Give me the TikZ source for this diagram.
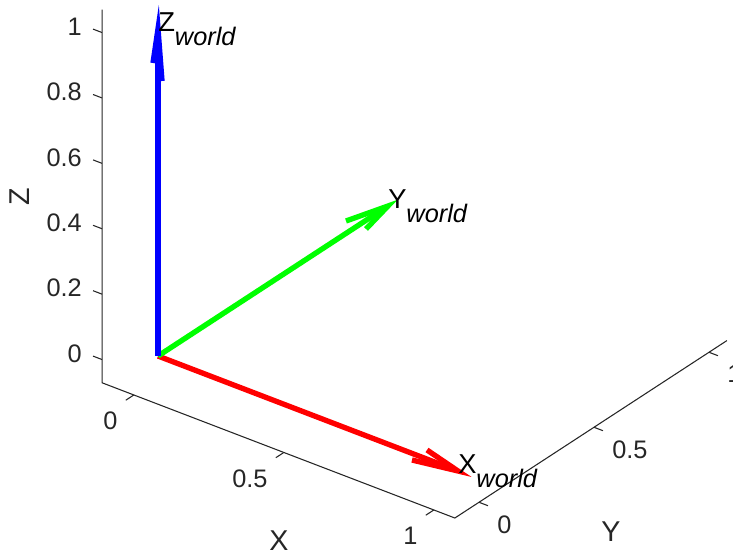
\documentclass[tikz,border=0pt]{standalone}
\usepackage{fontspec}
\setmainfont{Liberation Sans}
\usepackage{xcolor}
\definecolor{axisgray}{rgb}{0.15,0.15,0.15}
\usepackage{tikz}
\usetikzlibrary{positioning, calc}

\begin{document}
\begin{tikzpicture}[
  x={(225pt,-86.25pt)}, y={(172.5pt,112.5pt)}, z={(0pt,245.25pt)},
  axisline/.style={draw=axisgray, line width=0.8pt},
  ticklab/.style={text=axisgray, inner sep=0pt, font=\fontsize{19}{22}\selectfont},
  axtitle/.style={text=axisgray, inner sep=0pt, font=\fontsize{21.5}{24}\selectfont},
  vecline/.style={line width=4pt},
  vechead/.style={line width=4pt, line join=miter},
  veclab/.style={anchor=west, inner sep=0pt, font=\fontsize{20.5}{24}\selectfont},
]
\useasboundingbox (-118.5pt,-148.5pt) rectangle (431.25pt,267pt);

% --- Axes box ---
\coordinate (A) at (-0.106,-0.105,-0.071);
\coordinate (B) at (1.07,-0.105,-0.071);
\coordinate (C) at (1.07,1.078,-0.071);
\coordinate (D) at (-0.106,-0.105,1.07);
\draw[axisline] (D) -- (A) -- (B) -- (C);

% Z ticks
\foreach \t/\lab [count=\i] in {0/0,0.2/0.2,0.4/0.4,0.6/0.6,0.8/0.8,1/1} {
  \draw[axisline] (-0.106,-0.105,\t) -- ++(-0.03,0,0);
  \node[ticklab, anchor=east, xshift=-15pt, yshift=4.5pt] (zt\i) at (-0.106,-0.105,\t) {\lab};
}
% X ticks
\foreach \t/\lab [count=\i] in {0/0,0.5/0.5,1/1} {
  \draw[axisline] (\t,-0.105,-0.071) -- ++(0,-0.035,0);
  \node[ticklab, anchor=north east, xshift=-12pt, yshift=-12.75pt] (xt\i) at (\t,-0.105,-0.071) {\lab};
}
% Y ticks
\foreach \t/\lab [count=\i] in {0/0,0.5/0.5,1/1} {
  \draw[axisline] (1.07,\t,-0.071) -- ++(0.03,0,0);
  \node[ticklab, anchor=north west, xshift=13.5pt, yshift=-9.75pt] (yt\i) at (1.07,\t,-0.071) {\lab};
}

% Axis titles
\node[axtitle, rotate=90] (zlab) at (-103.5pt,119.25pt) {Z};
\node[axtitle] (xlab) at (90.75pt,-138.75pt) {X};
\node[axtitle] (ylab) at (339.75pt,-132pt) {Y};

% --- World frame ---
\coordinate (O) at (0,0,0);
\coordinate (xtip) at (1,0,0);
\coordinate (ytip) at (0,1,0);
\coordinate (ztip) at (0,0,1);

\draw[vecline, red, shorten >=4pt] (O) -- (xtip);
\draw[vechead, red] ($(xtip)+(-23.25pt,15.75pt)$) -- (xtip) -- ($(xtip)+(-34.5pt,8.25pt)$);

\draw[vecline, green, shorten >=4pt] (O) -- (ytip);
\draw[vechead, green] ($(ytip)+(-31.5pt,-11.25pt)$) -- (ytip) -- ($(ytip)+(-16.5pt,-17.25pt)$);

\draw[vecline, blue, shorten >=4pt] (O) -- (ztip);
\draw[vechead, blue] ($(ztip)+(-3.75pt,-25.5pt)$) -- (ztip) -- ($(ztip)+(3pt,-39pt)$);

% Labels
\node[veclab] (xname) at (xtip) {X\raisebox{-0.5em}{\fontsize{19}{22}\selectfont\itshape world}};
\node[veclab] (yname) at (ytip) {Y\raisebox{-0.5em}{\fontsize{19}{22}\selectfont\itshape world}};
\node[veclab] (zname) at (ztip) {Z\raisebox{-0.5em}{\fontsize{19}{22}\selectfont\itshape world}};
\end{tikzpicture}
\end{document}
